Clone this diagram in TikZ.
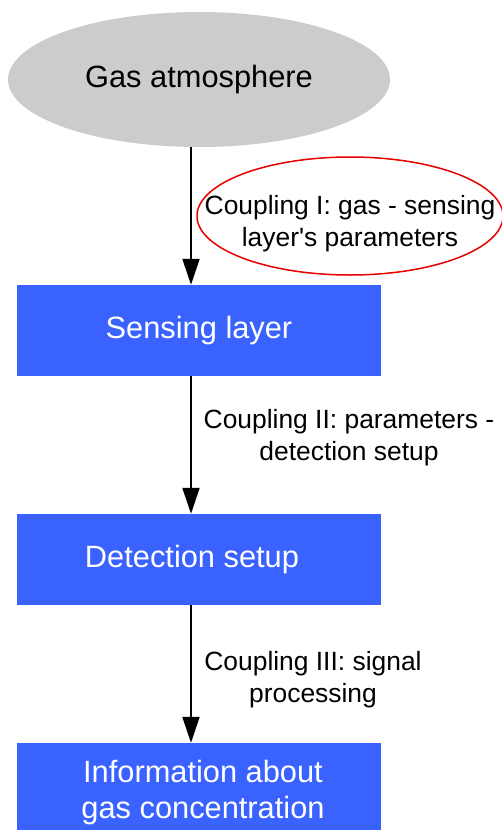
\documentclass[tikz,border=0pt]{standalone}
\usepackage{fontspec}
\setmainfont{Liberation Sans}
\usetikzlibrary{positioning, shapes.geometric, arrows.meta}
\definecolor{BoxBlue}{RGB}{58, 98, 255}
\definecolor{GasGray}{RGB}{204, 204, 204}
\definecolor{LabelRed}{RGB}{230, 0, 0}

\begin{document}
\begin{tikzpicture}[x=1pt, y=-1pt,
    stagebox/.style={rectangle, fill=BoxBlue, text=white, minimum width=364pt,
      minimum height=91pt, inner sep=0pt, align=center,
      font=\fontsize{30.8}{36}\selectfont},
    couplabel/.style={align=center, inner sep=0pt, font=\fontsize{26.4}{32}\selectfont},
    flow/.style={-{Triangle[length=26pt, width=17pt]}, line width=2pt}]
    \useasboundingbox (0,0) rectangle (502,830);
    \clip (0,0) rectangle (502,830);

    % Source
    \node[ellipse, fill=GasGray, minimum width=382pt, minimum height=135pt,
      font=\fontsize{30.8}{36}\selectfont] (gas) at (199,79.5) {Gas atmosphere};

    % Stages
    \node[stagebox] (sense) at (199,330.5) {Sensing layer};
    \node[stagebox] (detect) at (199,559.5) {\hspace*{-14pt}Detection setup};
    \node[stagebox, minimum height=100pt] (info) at (199,793)
      {\hspace*{8pt}Information about\\\hspace*{8pt}gas concentration};

    % Couplings
    \draw[flow] ([xshift=-8pt]gas.south) -- ([xshift=-8pt]sense.north);
    \draw[flow] ([xshift=-8pt]sense.south) -- ([xshift=-8pt]detect.north);
    \draw[flow] ([xshift=-8pt]detect.south) -- ([xshift=-8pt]info.north);

    % Labels
    \node[couplabel] (lab1) at (350,224) {Coupling I: gas - sensing\\layer\textquotesingle s parameters};
    \draw[LabelRed, line width=1.5pt] ([yshift=8pt]lab1.center) ellipse [x radius=153pt, y radius=59pt];
    \node[couplabel] (lab2) at (349,438) {Coupling II: parameters -\\detection setup};
    \node[couplabel] (lab3) at (313,680) {Coupling III: signal\\processing};
  \end{tikzpicture}
\end{document}
